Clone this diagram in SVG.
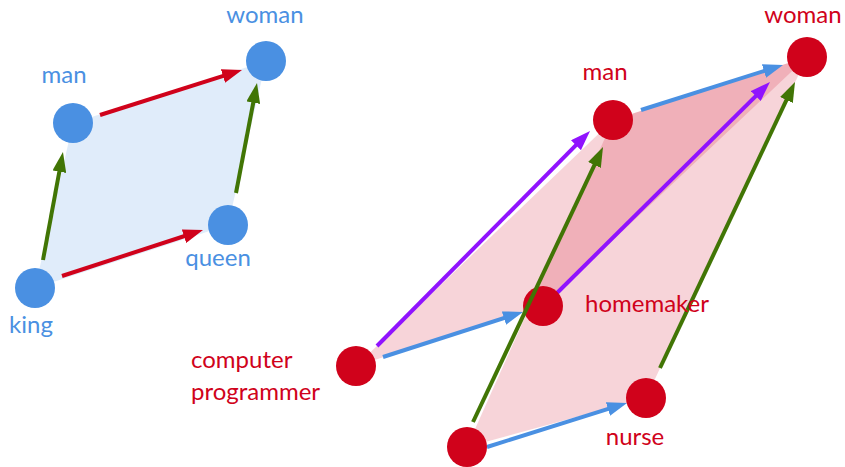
<svg xmlns="http://www.w3.org/2000/svg" width="845" height="467" viewBox="0 0 845 467">
<style>
  .lbl { font-family: Lato, "Open Sans", "Liberation Sans", sans-serif; font-size: 24px; }
  .bl { fill: #4a90e2; }
  .rd { fill: #d0021b; }
  .bnode { fill: #4a90e2; }
  .rnode { fill: #d0021b; }
  .pblue { fill: #4a90e2; fill-opacity: 0.17; }
  .pred { fill: #d0021b; fill-opacity: 0.17; }
  .ar { fill: none; stroke-width: 4; }
  .red { stroke: #d0021b; marker-end: url(#mRed); }
  .grn { stroke: #417505; marker-end: url(#mGrn); }
  .pur { stroke: #9013fe; marker-end: url(#mPur); }
  .blu { stroke: #4a90e2; marker-end: url(#mBlu); }
</style>
<defs>
  <marker id="mRed" viewBox="0 0 20 14" refX="12" refY="7" markerWidth="20" markerHeight="14" markerUnits="userSpaceOnUse" orient="auto"><path d="M0,0 L20,7 L0,14 z" fill="#d0021b"/></marker>
  <marker id="mGrn" viewBox="0 0 20 14" refX="12" refY="7" markerWidth="20" markerHeight="14" markerUnits="userSpaceOnUse" orient="auto"><path d="M0,0 L20,7 L0,14 z" fill="#417505"/></marker>
  <marker id="mPur" viewBox="0 0 20 14" refX="12" refY="7" markerWidth="20" markerHeight="14" markerUnits="userSpaceOnUse" orient="auto"><path d="M0,0 L20,7 L0,14 z" fill="#9013fe"/></marker>
  <marker id="mBlu" viewBox="0 0 20 14" refX="12" refY="7" markerWidth="20" markerHeight="14" markerUnits="userSpaceOnUse" orient="auto"><path d="M0,0 L20,7 L0,14 z" fill="#4a90e2"/></marker>
</defs>
<g id="areas">
  <polygon class="pblue" points="35,288 73,123 266,61 228,225"/>
  <polygon class="pred" points="356,366 613,120 807,57 543,306"/>
  <polygon class="pred" points="467,447 613,120 807,57 646,398"/>
</g>
<g id="connectors">
  <line class="ar red" x1="100" y1="115" x2="234.4" y2="72.4"/>
  <line class="ar grn" x1="43" y1="260" x2="61.5" y2="159.9"/>
  <line class="ar red" x1="62" y1="276" x2="195.4" y2="232.5"/>
  <line class="ar grn" x1="236" y1="193" x2="255.5" y2="90.9"/>
  <line class="ar pur" x1="377" y1="346" x2="584.4" y2="136.7"/>
  <line class="ar pur" x1="557" y1="293" x2="764.3" y2="87.6"/>
  <line class="ar blu" x1="383" y1="357" x2="515.4" y2="314.4"/>
  <line class="ar blu" x1="641" y1="110" x2="775.4" y2="67.4"/>
  <line class="ar blu" x1="487" y1="447" x2="619.4" y2="405.4"/>
  <line class="ar grn" x1="660" y1="368" x2="791.6" y2="89.2"/>
</g>
<g id="n-king"><circle class="bnode" cx="35" cy="288" r="20"/><text class="lbl bl" x="31" y="333" text-anchor="middle">king</text></g>
<g id="n-man-l"><circle class="bnode" cx="73" cy="123" r="20"/><text class="lbl bl" x="64" y="83" text-anchor="middle">man</text></g>
<g id="n-woman-l"><circle class="bnode" cx="266" cy="61" r="20"/><text class="lbl bl" x="265" y="23" text-anchor="middle">woman</text></g>
<g id="n-queen"><circle class="bnode" cx="228" cy="225" r="20"/><text class="lbl bl" x="218" y="266" text-anchor="middle">queen</text></g>
<g id="n-programmer"><circle class="rnode" cx="356" cy="366" r="20"/><text class="lbl rd" x="191" y="368">computer</text><text class="lbl rd" x="191" y="400">programmer</text></g>
<g id="n-man-r"><circle class="rnode" cx="613" cy="120" r="20"/><text class="lbl rd" x="605" y="80" text-anchor="middle">man</text></g>
<g id="n-woman-r"><circle class="rnode" cx="807" cy="57" r="20"/><text class="lbl rd" x="803" y="23" text-anchor="middle">woman</text></g>
<g id="n-homemaker"><circle class="rnode" cx="543" cy="306" r="20"/><text class="lbl rd" x="585" y="312">homemaker</text></g>
<g id="n-nurse"><circle class="rnode" cx="646" cy="398" r="20"/><text class="lbl rd" x="635" y="445" text-anchor="middle">nurse</text></g>
<g id="n-bottom"><circle class="rnode" cx="467" cy="447" r="20"/></g>
<g id="connectors-top">
  <line class="ar grn" x1="473" y1="422" x2="599.6" y2="154.2"/>
</g>
</svg>
